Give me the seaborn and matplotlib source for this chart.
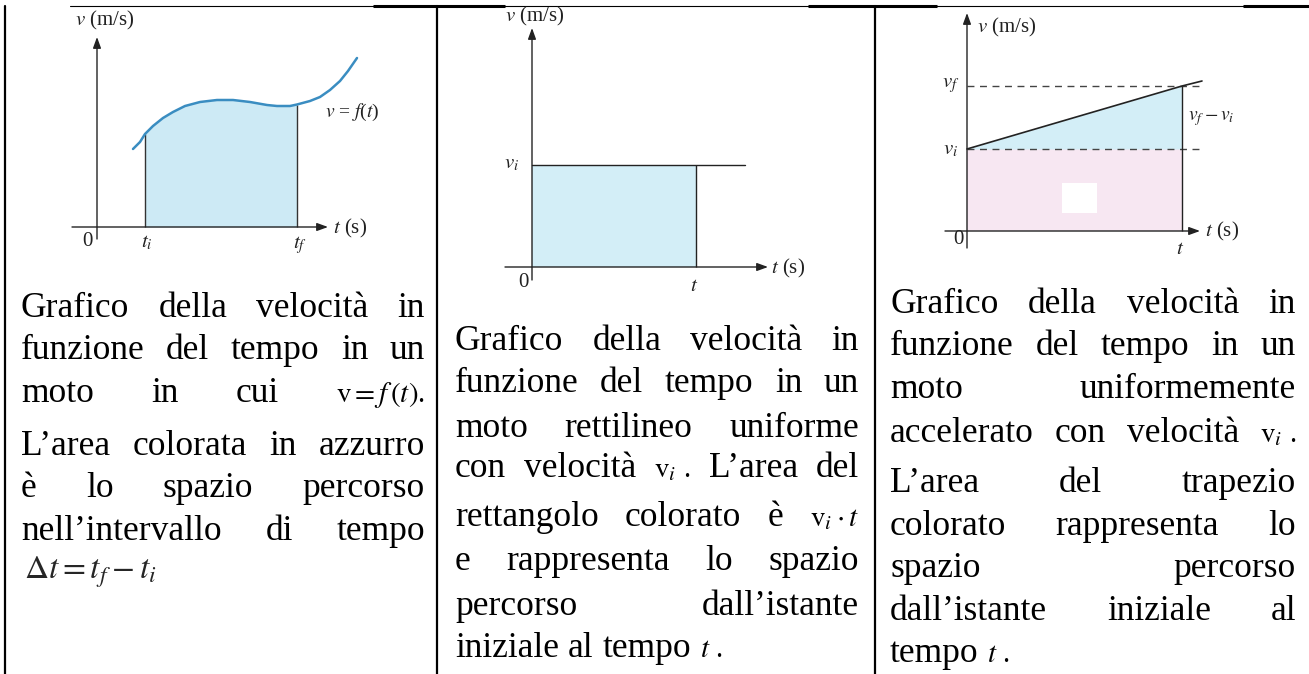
import matplotlib
matplotlib.use('Agg')
import matplotlib.pyplot as plt
import seaborn as sns
from matplotlib.patches import Rectangle

sns.set_theme(style='white')
plt.rcParams['font.family'] = ['Liberation Serif', 'DejaVu Serif']
plt.rcParams['mathtext.fontset'] = 'stix'

# ---- dati (unita' arbitrarie) ----
# pannello 1: v = f(t)
curve_t = [3.6, 4.3, 4.8, 5.6, 6.6, 7.6, 8.8, 10.3, 12.0, 13.6, 15.3, 17.0,
           18.0, 19.3, 20.0, 21.3, 22.3, 23.3, 24.3, 25.1, 26.0]
curve_v = [7.8, 8.5, 9.3, 10.1, 10.9, 11.5, 12.1, 12.5, 12.7, 12.7, 12.5, 12.2,
           12.1, 12.1, 12.25, 12.6, 13.0, 13.7, 14.6, 15.6, 16.9]
t_i, t_f = 4.8, 20.0

# pannello 2: moto rettilineo uniforme
p2_vi = 10.2
p2_t = 16.4
p2_line_end = 21.3

# pannello 3: moto uniformemente accelerato
p3_vi = 8.2
p3_vf = 14.5
p3_t = 21.5
p3_line_t = [0, 21.5, 23.5]
p3_line_v = [8.2, 14.5, 15.0]
p3_dash_end = 23.3

# testi delle didascalie (righe giustificate)
text1 = [["Grafico", "della", "velocità", "in"],
         ["funzione", "del", "tempo", "in", "un"],
         ["moto", "in", "cui", r"$\mathrm{v}=f\,(t)$."],
         ["L’area", "colorata", "in", "azzurro"],
         ["è", "lo", "spazio", "percorso"],
         ["nell’intervallo", "di", "tempo"]]
text1_last = r"$\Delta t = t_{f} - t_{i}$"

text2 = [["Grafico", "della", "velocità", "in"],
         ["funzione", "del", "tempo", "in", "un"],
         ["moto", "rettilineo", "uniforme"],
         ["con", "velocità", r"$\mathrm{v}_{i}$ .", "L’area", "del"],
         ["rettangolo", "colorato", "è", r"$\mathrm{v}_{i}\cdot t$"],
         ["e", "rappresenta", "lo", "spazio"],
         ["percorso", "dall’istante"]]
text2_last = ["iniziale", "al", "tempo", r"$t$ ."]

text3 = [["Grafico", "della", "velocità", "in"],
         ["funzione", "del", "tempo", "in", "un"],
         ["moto", "uniformemente"],
         ["accelerato", "con", "velocità", r"$\mathrm{v}_{i}$ ."],
         ["L’area", "del", "trapezio"],
         ["colorato", "rappresenta", "lo"],
         ["spazio", "percorso"],
         ["dall’istante", "iniziale", "al"]]
text3_last = ["tempo", r"$t$ ."]

W, H = 1309, 674
fig = plt.figure(figsize=(W / 100, H / 100), dpi=100)
bg = fig.add_axes([0, 0, 1, 1])
bg.set_xlim(0, W)
bg.set_ylim(H, 0)
bg.axis('off')

# bordi della tabella
bg.plot([70, W], [6, 6], color='black', lw=0.8)
for a, b in [(373, 505), (808, 937), (1243, W)]:
    bg.plot([a, b], [6, 6], color='black', lw=2.2, solid_capstyle='butt')
for x in [5, 437, 875]:
    bg.plot([x, x], [6, H], color='black', lw=1.6)

renderer = fig.canvas.get_renderer()
SIZE = 25.5


def put_line(tokens, y, x0, x1, justify=True, size=SIZE):
    texts = []
    for tok in tokens:
        fs = size * 0.82 if '$' in tok else size
        texts.append(bg.text(x0, y, tok, fontsize=fs, va='baseline', ha='left',
                             color='black'))
    widths = [t.get_window_extent(renderer).width for t in texts]
    if justify and len(texts) > 1:
        gap = (x1 - x0 - sum(widths)) / (len(texts) - 1)
    else:
        gap = 0.25 * size * 100 / 72
    x = x0
    for t, w in zip(texts, widths):
        t.set_x(x)
        x += w + gap


base1 = [317, 359, 402, 455, 497, 540]
for toks, y in zip(text1, base1):
    put_line(toks, y, 21, 425)
bg.text(24, 578, text1_last, fontsize=24, va='baseline', ha='left')

base2 = [350, 392, 437, 477, 526, 570, 615]
for toks, y in zip(text2, base2):
    put_line(toks, y, 455, 859)
put_line(text2_last, 657, 455, 859, justify=False)

base3 = [313, 355, 398, 442, 492, 535, 577, 620]
for toks, y in zip(text3, base3):
    put_line(toks, y, 890, 1296)
put_line(text3_last, 662, 890, 1296, justify=False)


# ---- grafici ----
def graph_axes(px0, px1, py0, py1, ox, oy, unit=10):
    ax = fig.add_axes([px0 / W, 1 - py1 / H, (px1 - px0) / W, (py1 - py0) / H])
    ax.set_xlim((px0 - ox) / unit, (px1 - ox) / unit)
    ax.set_ylim((oy - py1) / unit, (oy - py0) / unit)
    ax.axis('off')
    return ax


def axis_arrow(ax, x0, y0, x1, y1):
    ax.annotate('', xy=(x1, y1), xytext=(x0, y0), annotation_clip=False,
                arrowprops=dict(arrowstyle='-|>,head_length=0.55,head_width=0.2',
                                color='#222222', lw=1.0, shrinkA=0, shrinkB=0,
                                mutation_scale=12))


LAB = 15
ink = '#222222'

# pannello 1
ax1 = graph_axes(60, 400, 8, 265, 97, 227)
sel = [(t, v) for t, v in zip(curve_t, curve_v) if t_i <= t <= t_f]
ax1.fill_between([p[0] for p in sel], 0, [p[1] for p in sel], color='#cdeaf5', lw=0)
ax1.vlines([t_i, t_f], 0, [sel[0][1], sel[-1][1]], color='#333333', lw=1.0)
sns.lineplot(x=curve_t, y=curve_v, ax=ax1, color='#3a8dc1', lw=1.8, sort=False)
axis_arrow(ax1, -2.5, 0, 23.1, 0)
axis_arrow(ax1, 0, -1.2, 0, 19.0)
ax1.text(-2.2, 20.7, r"$v$ (m/s)", fontsize=LAB, va='center', color=ink)
ax1.text(-1.0, -1.4, "0", fontsize=LAB, ha='center', va='center', color=ink)
ax1.text(5.0, -1.6, r"$t_i$", fontsize=LAB, ha='center', va='center', color=ink)
ax1.text(20.3, -1.8, r"$t_f$", fontsize=LAB, ha='center', va='center', color=ink)
ax1.text(23.6, -0.1, r"$t$ (s)", fontsize=LAB, va='center', color=ink)
ax1.text(22.8, 11.5, r"$v$ = $f$($t$)", fontsize=LAB - 1, va='center', color=ink)

# pannello 2
ax2 = graph_axes(490, 830, 8, 300, 532, 267)
ax2.fill_between([0, p2_t], 0, p2_vi, color='#d3eef7', lw=0)
sns.lineplot(x=[0, p2_line_end], y=[p2_vi, p2_vi], ax=ax2, color=ink, lw=1.0)
ax2.vlines(p2_t, 0, p2_vi, color=ink, lw=1.0)
axis_arrow(ax2, -2.7, 0, 23.6, 0)
axis_arrow(ax2, 0, -1.3, 0, 23.9)
ax2.text(-2.7, 25.1, r"$v$ (m/s)", fontsize=LAB, va='center', color=ink)
ax2.text(-2.0, 10.3, r"$v_i$", fontsize=LAB, ha='center', va='center', color=ink)
ax2.text(-0.9, -1.5, "0", fontsize=LAB, ha='center', va='center', color=ink)
ax2.text(16.2, -1.9, r"$t$", fontsize=LAB, ha='center', va='center', color=ink)
ax2.text(23.9, -0.1, r"$t$ (s)", fontsize=LAB, va='center', color=ink)

# pannello 3
ax3 = graph_axes(930, 1262, 8, 270, 967, 231)
ax3.fill_between([0, p3_t], 0, p3_vi, color='#f7e7f2', lw=0)
ax3.fill_between(p3_line_t[:2], p3_vi, p3_line_v[:2], color='#d3eef7', lw=0)
ax3.add_patch(Rectangle((9.5, 1.8), 3.5, 3.0, color='white', lw=0))
for lvl in [p3_vf, p3_vi]:
    ax3.plot([0, p3_dash_end], [lvl, lvl], color='#444444', lw=1.0,
             ls=(0, (5, 4)))
sns.lineplot(x=p3_line_t, y=p3_line_v, ax=ax3, color=ink, lw=1.2)
ax3.vlines(p3_t, 0, p3_vf, color=ink, lw=1.0)
axis_arrow(ax3, -2.2, 0, 23.3, 0)
axis_arrow(ax3, 0, -1.7, 0, 21.8)
ax3.text(1.0, 20.4, r"$v$ (m/s)", fontsize=LAB, va='center', color=ink)
ax3.text(-1.6, 14.5, r"$v_f$", fontsize=LAB, ha='center', va='center', color=ink)
ax3.text(-1.6, 8.1, r"$v_i$", fontsize=LAB, ha='center', va='center', color=ink)
ax3.text(22.1, 11.2, r"$v_f - v_i$", fontsize=LAB - 1, va='center', color=ink)
ax3.text(-0.9, -0.9, "0", fontsize=LAB, ha='center', va='center', color=ink)
ax3.text(21.3, -1.9, r"$t$", fontsize=LAB, ha='center', va='center', color=ink)
ax3.text(23.8, 0.0, r"$t$ (s)", fontsize=LAB, va='center', color=ink)

fig.savefig('out.png', dpi=100, facecolor='white')
